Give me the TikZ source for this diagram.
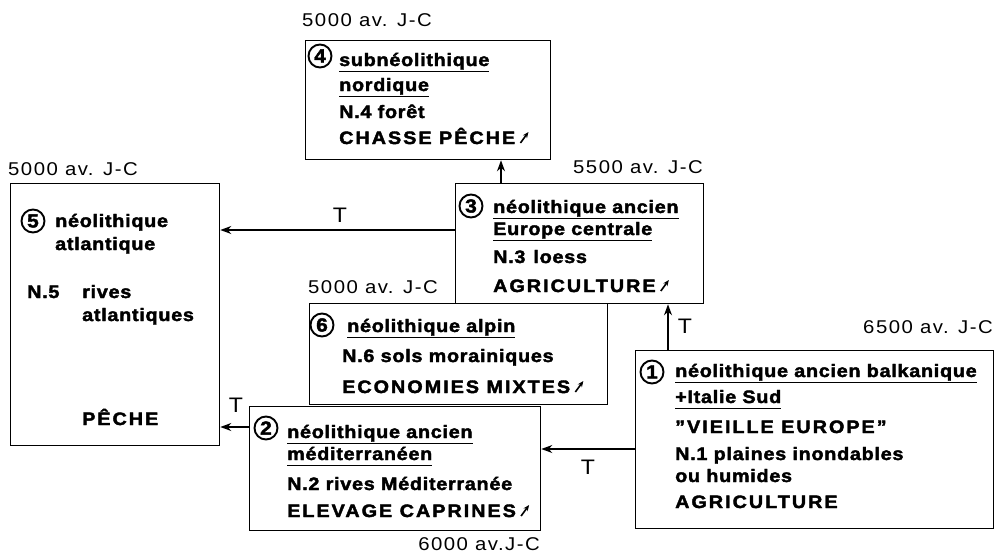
\documentclass[tikz,border=0pt]{standalone}
\usepackage{fontspec}
\setmainfont{Liberation Sans}[FakeStretch=1.1,LetterSpace=4,BoldFeatures={FakeBold=2.2}]
\usetikzlibrary{arrows.meta}
\newsavebox{\ulbox}
\newcommand{\ulx}[1]{\sbox{\ulbox}{#1}\rlap{\rule[-6pt]{\wd\ulbox}{1.3pt}}\usebox{\ulbox}}
\newcommand{\capsp}{\addfontfeature{LetterSpace=11}}
\newcommand{\datesp}{\addfontfeature{LetterSpace=8}}
\tikzset{
  box/.style={draw, line width=1.3pt, inner sep=0pt, anchor=north west},
  txt/.style={anchor=base west, inner sep=0pt, font=\fontsize{18}{20}\selectfont\bfseries},
  ctxt/.style={anchor=base west, inner sep=0pt, font=\fontsize{18}{20}\selectfont\bfseries\capsp},
  date/.style={anchor=base west, inner sep=0pt, font=\fontsize{18.5}{20}\selectfont\datesp},
  datee/.style={anchor=base east, inner sep=0pt, font=\fontsize{18.5}{20}\selectfont\datesp},
  tlab/.style={inner sep=0pt, font=\fontsize{21}{22}\selectfont},
  cnum/.style={circle, draw, line width=1.9pt, minimum size=23pt, inner sep=0pt, font=\fontsize{19}{19}\selectfont\bfseries},
  arr/.style={-{Stealth[length=11pt,width=8pt]}, line width=1.5pt},
  sarr/.style={-{Stealth[length=6pt,width=5pt]}, line width=1.6pt}
}
\begin{document}
\begin{tikzpicture}[x=1pt,y=-1pt]
\useasboundingbox (0,0) rectangle (994,554);
% boxes
\node[box, minimum width=245pt, minimum height=119pt] (b4) at (305,40) {};
\node[box, minimum width=209pt, minimum height=262pt] (b5) at (10,183) {};
\node[box, minimum width=248pt, minimum height=120pt] (b3) at (455,183) {};
\node[box, minimum width=298pt, minimum height=101pt] (b6) at (309,303) {};
\node[box, minimum width=291pt, minimum height=124pt] (b2) at (249,406) {};
\node[box, minimum width=358pt, minimum height=178pt] (b1) at (635,350) {};
% box 4
\node[cnum] (c4) at (320,56) {4};
\node[txt] (t4a) at (339,66) {\ulx{subnéolithique}};
\node[txt] (t4b) at (339,91) {\ulx{nordique}};
\node[txt] (t4c) at (339,118) {N.4 forêt};
\node[ctxt] (t4d) at (339,144) {CHASSE PÊCHE};
\draw[sarr] ([xshift=5pt,yshift=1pt]t4d.base east) -- ++(8,-11);
% box 5
\node[cnum] (c5) at (33,221) {5};
\node[txt] (t5a) at (55,227) {néolithique};
\node[txt] (t5b) at (55,250) {atlantique};
\node[txt] (t5c) at (27,298) {N.5};
\node[txt] (t5d) at (82,298) {rives};
\node[txt] (t5e) at (82,321) {atlantiques};
\node[ctxt] (t5f) at (82,425) {PÊCHE};
% box 3
\node[cnum] (c3) at (471,206) {3};
\node[txt] (t3a) at (493,213) {\ulx{néolithique ancien}};
\node[txt] (t3b) at (493,235) {\ulx{Europe centrale}};
\node[txt] (t3c) at (493,263) {N.3\hspace{8pt}loess};
\node[ctxt] (t3d) at (493,292) {AGRICULTURE};
\draw[sarr] ([xshift=5pt,yshift=1pt]t3d.base east) -- ++(8,-11);
% box 6
\node[cnum] (c6) at (322,325) {6};
\node[txt] (t6a) at (347,332) {\ulx{néolithique alpin}};
\node[txt] (t6b) at (342,362) {N.6 sols morainiques};
\node[ctxt] (t6c) at (342,393) {ECONOMIES MIXTES};
\draw[sarr] ([xshift=5pt,yshift=1pt]t6c.base east) -- ++(8,-11);
% box 2
\node[cnum] (c2) at (266,428) {2};
\node[txt] (t2a) at (287,438) {\ulx{néolithique ancien}};
\node[txt] (t2b) at (287,460) {\ulx{méditerranéen}};
\node[txt] (t2c) at (287,490) {N.2 rives Méditerranée};
\node[ctxt] (t2d) at (287,517) {ELEVAGE CAPRINES};
\draw[sarr] ([xshift=5pt,yshift=1pt]t2d.base east) -- ++(8,-11);
% box 1
\node[cnum] (c1) at (652,372) {1};
\node[txt] (t1a) at (675,377) {\ulx{néolithique ancien balkanique}};
\node[txt] (t1b) at (675,403) {\ulx{+Italie Sud}};
\node[ctxt] (t1c) at (675,433) {"VIEILLE EUROPE"};
\node[txt] (t1d) at (675,460) {N.1 plaines inondables};
\node[txt] (t1e) at (675,482) {ou humides};
\node[ctxt] (t1f) at (675,508) {AGRICULTURE};
% dates
\node[date] (d4) at (302,27) {5000 av. J-C};
\node[date] (d5) at (8,175) {5000 av. J-C};
\node[date] (d3) at (573,173) {5500 av. J-C};
\node[date] (d6) at (308,293) {5000 av. J-C};
\node[datee] (d1) at (993,333) {6500 av. J-C};
\node[datee] (d2) at (540,550) {6000 av.J-C};
% connectors
\draw[arr] ([xshift=46pt]b3.north west) -- ([xshift=46pt]b3.north west |- b4.south);
\draw[arr] ([yshift=-47pt]b3.north west) -- ([yshift=-47pt]b3.north west -| b5.east);
\draw[arr] ([xshift=33pt]b1.north west) -- ([xshift=33pt]b1.north west |- b3.south);
\draw[arr] ([yshift=-99pt]b1.north west) -- ([yshift=-99pt]b1.north west -| b2.east);
\draw[arr] ([yshift=-21pt]b2.north west) -- ([yshift=-21pt]b2.north west -| b5.east);
% T labels
\node[tlab] (T1) at (340,215) {T};
\node[tlab] (T2) at (685,326) {T};
\node[tlab] (T3) at (588,467) {T};
\node[tlab] (T4) at (236,405) {T};
\end{tikzpicture}
\end{document}
